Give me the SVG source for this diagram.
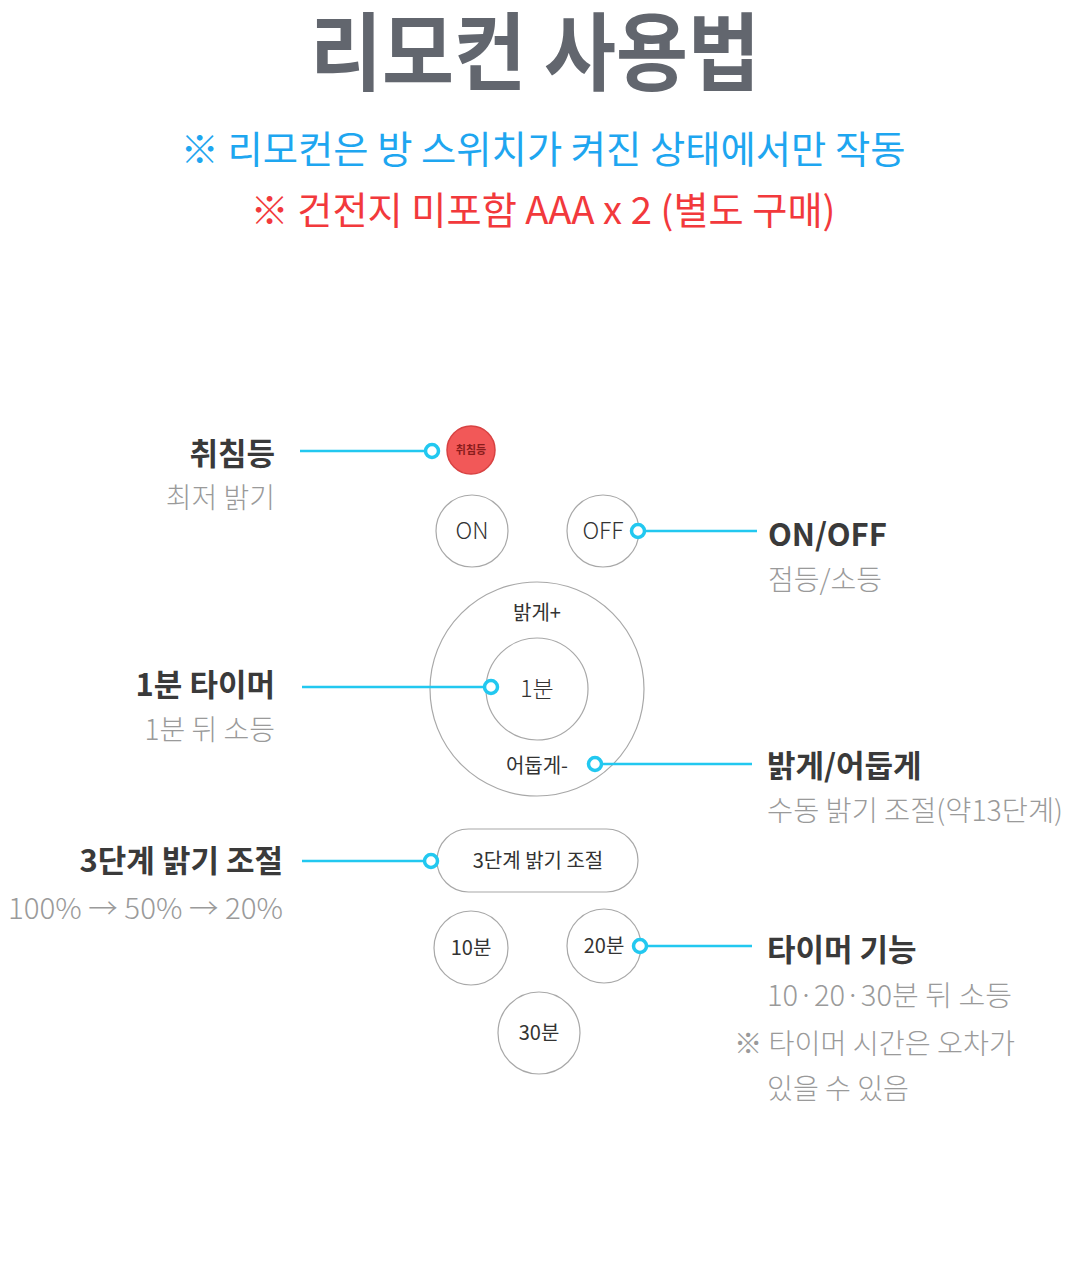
<svg xmlns="http://www.w3.org/2000/svg" width="1087" height="1271" viewBox="0 0 1087 1271">
<style>
text{font-family:"Noto Sans CJK KR","Noto Sans",sans-serif}
.title{font-size:85px;font-weight:700;fill:#62666e}
.blue{font-size:38px;font-weight:400;fill:#1ea6f0}
.red{font-size:38px;font-weight:400;fill:#f2393c}
.lbl{font-size:31px;font-weight:700;fill:#3a3a3a}
.sub{font-size:28px;font-weight:300;fill:#9a9a9a}
.btn{fill:#fff;stroke:#a8a8a8;stroke-width:1.2}
.bt{font-size:23px;font-weight:300;fill:#333;text-anchor:middle}
.bs{font-size:20px;font-weight:400;fill:#333;text-anchor:middle}
.ln{stroke:#22c8f0;stroke-width:2.5;fill:none}
.dot{stroke:#22c8f0;stroke-width:3.5;fill:#fff}
</style>
<text class="title" x="535" y="84" text-anchor="middle" textLength="450" lengthAdjust="spacingAndGlyphs">리모컨 사용법</text>
<text class="blue" x="543" y="163" text-anchor="middle" textLength="725" lengthAdjust="spacingAndGlyphs">※ 리모컨은 방 스위치가 켜진 상태에서만 작동</text>
<text class="red" x="543" y="224" text-anchor="middle" textLength="585" lengthAdjust="spacingAndGlyphs">※ 건전지 미포함 AAA x 2 (별도 구매)</text>

<g id="btn-sleep">
<circle cx="471" cy="450" r="24" fill="#f25858" stroke="#d84242" stroke-width="1.5"/>
<text x="471" y="454" text-anchor="middle" font-size="11" font-weight="700" fill="#8a1c1c">취침등</text>
</g>
<g id="btn-on"><circle class="btn" cx="472" cy="531" r="36"/><text class="bt" x="472" y="539">ON</text></g>
<g id="btn-off"><circle class="btn" cx="603" cy="531" r="36"/><text class="bt" x="603" y="539">OFF</text></g>
<g id="btn-dial">
<circle class="btn" cx="537" cy="689" r="107"/>
<text class="bs" x="537" y="620">밝게+</text>
<text class="bs" x="537" y="773">어둡게-</text>
</g>
<g id="btn-1min"><circle class="btn" cx="537" cy="689" r="51"/><text class="bt" x="537" y="697">1분</text></g>
<g id="btn-3step"><rect class="btn" x="437" y="829" width="201" height="63" rx="31.5"/><text class="bs" x="538" y="868" font-size="21.5">3단계 밝기 조절</text></g>
<g id="btn-10"><circle class="btn" cx="471" cy="948" r="37"/><text class="bs" x="471" y="955">10분</text></g>
<g id="btn-20"><circle class="btn" cx="604" cy="946" r="37"/><text class="bs" x="604" y="953">20분</text></g>
<g id="btn-30"><circle class="btn" cx="539" cy="1033" r="41"/><text class="bs" x="539" y="1040">30분</text></g>

<g id="connectors">
<line class="ln" x1="300" y1="451" x2="426" y2="451"/><circle class="dot" cx="432" cy="451" r="6.5"/>
<line class="ln" x1="644" y1="531" x2="757" y2="531"/><circle class="dot" cx="638" cy="531" r="6.5"/>
<line class="ln" x1="302" y1="687" x2="485" y2="687"/><circle class="dot" cx="491" cy="687" r="6.5"/>
<line class="ln" x1="601" y1="764" x2="752" y2="764"/><circle class="dot" cx="595" cy="764" r="6.5"/>
<line class="ln" x1="302" y1="861" x2="425" y2="861"/><circle class="dot" cx="431" cy="861" r="6.5"/>
<line class="ln" x1="646" y1="946" x2="752" y2="946"/><circle class="dot" cx="640" cy="946" r="6.5"/>
</g>

<g id="label-sleep"><text class="lbl" x="275" y="465" text-anchor="end">취침등</text><text class="sub" x="275" y="508" text-anchor="end">최저 밝기</text></g>
<g id="label-1min"><text class="lbl" x="275" y="696" text-anchor="end">1분 타이머</text><text class="sub" x="275" y="740" text-anchor="end">1분 뒤 소등</text></g>
<g id="label-3step"><text class="lbl" x="283" y="872" text-anchor="end">3단계 밝기 조절</text><text class="sub" x="283" y="919" text-anchor="end" textLength="275" lengthAdjust="spacingAndGlyphs">100% → 50% → 20%</text></g>
<g id="label-onoff"><text class="lbl" x="768" y="546">ON/OFF</text><text class="sub" x="768" y="590">점등/소등</text></g>
<g id="label-dim"><text class="lbl" x="767" y="777">밝게/어둡게</text><text class="sub" x="767" y="821" textLength="296" lengthAdjust="spacingAndGlyphs">수동 밝기 조절(약13단계)</text></g>
<g id="label-timer">
<text class="lbl" x="767" y="961">타이머 기능</text>
<text class="sub" x="767" y="1006" textLength="245" lengthAdjust="spacingAndGlyphs">10·20·30분 뒤 소등</text>
<text class="sub" x="734" y="1054" textLength="281" lengthAdjust="spacingAndGlyphs">※ 타이머 시간은 오차가</text>
<text class="sub" x="767" y="1099" textLength="142" lengthAdjust="spacingAndGlyphs">있을 수 있음</text>
</g>
</svg>
